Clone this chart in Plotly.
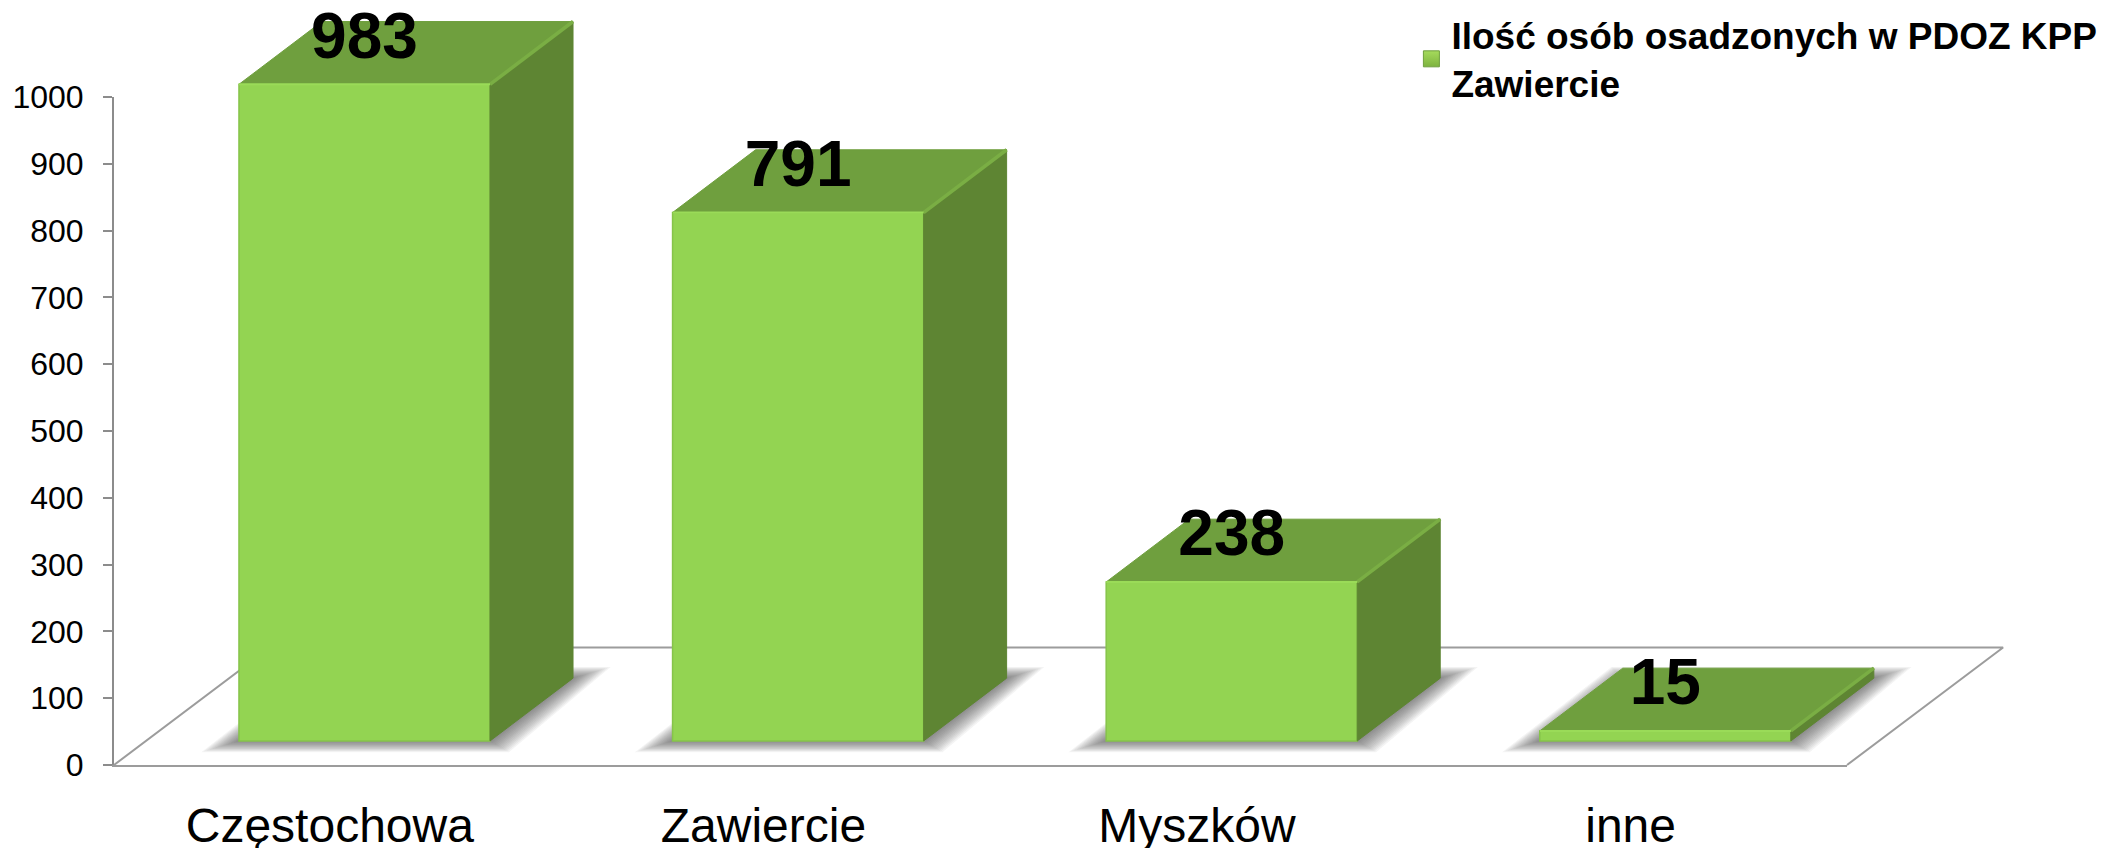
import plotly.graph_objects as go

# ---- data ----
categories = ["Częstochowa", "Zawiercie", "Myszków", "inne"]
values = [983, 791, 238, 15]
value_labels = ["983", "791", "238", "15"]
y_ticks = [0, 100, 200, 300, 400, 500, 600, 700, 800, 900, 1000]
series_name = "Ilość osób osadzonych w PDOZ KPP<br>Zawiercie"

# ---- oblique "3D" projection, in axis units ----
BAR_W = 0.579
DEPTH_X, DEPTH_Y = 0.1914, 94.0
BASE = 36.0
FLOOR_DX, FLOOR_DY = 0.36, 176.0
X_MIN, X_MAX = -0.5777, 3.419
LABEL_LIFT = 36 + 64
LABEL_SHIFT = -0.08

# layout frame of the visible axes, in pixels of the 2105x848 page
W, H = 2105, 848
AX_L, AX_R, AX_T, AX_B = 114, 1847, 97, 765
X_SCALE = (AX_R - AX_L) / (X_MAX - X_MIN)
Y_SCALE = (AX_B - AX_T) / 1000.0
FULL_X = [X_MIN - AX_L / X_SCALE, X_MAX + (W - AX_R) / X_SCALE]
FULL_Y = [-(H - AX_B) / Y_SCALE, 1000 + AX_T / Y_SCALE]

FRONT = "#93D452"
FRONT_HI = "#9ADB58"
TOP = "#6F9F3E"
SIDE = "#5E8533"
EDGE = "#7AAE44"
GREY = "#9C9C9C"
FONT = "Liberation Sans, Arial, sans-serif"


def poly(points, store):
    for px, py in points:
        store[0].append(px)
        store[1].append(py)
    store[0].append(points[0][0])
    store[1].append(points[0][1])
    store[0].append(None)
    store[1].append(None)


fig = go.Figure()

# soft floor shadows: stacked translucent footprints, largest first
for step in range(14, 0, -1):
    grow_x = step * 0.0062
    grow_y = step * 1.2
    store = ([], [])
    for i in range(len(values)):
        left, right = i - BAR_W / 2, i + BAR_W / 2
        poly([
            (left - grow_x, BASE - grow_y),
            (right + grow_x * 0.5, BASE - grow_y),
            (right + DEPTH_X + grow_x, BASE + DEPTH_Y + grow_y),
            (left + DEPTH_X - grow_x * 0.3, BASE + DEPTH_Y + grow_y),
        ], store)
    fig.add_trace(go.Scatter(x=store[0], y=store[1], mode="lines", fill="toself",
                             fillcolor="rgba(60,60,60,0.06)", line=dict(width=0),
                             xaxis="x2", yaxis="y2", hoverinfo="skip",
                             showlegend=False))

# floor outline
fig.add_trace(go.Scatter(
    x=[X_MIN, X_MIN + FLOOR_DX, X_MAX + FLOOR_DX, X_MAX],
    y=[0, FLOOR_DY, FLOOR_DY, 0],
    mode="lines", line=dict(color=GREY, width=2),
    xaxis="x2", yaxis="y2", hoverinfo="skip", showlegend=False))

# front faces
fig.add_trace(go.Bar(
    x=list(range(len(values))), y=values, base=BASE, width=BAR_W,
    marker=dict(color=FRONT, line=dict(color="#86C44A", width=1.5)),
    xaxis="x2", yaxis="y3", showlegend=False))

# top and side faces
top = ([], [])
side = ([], [])
bevel = ([], [])
front_hi = ([], [])
for i, v in enumerate(values):
    left, right = i - BAR_W / 2, i + BAR_W / 2
    high = BASE + v
    poly([(left, high), (right, high), (right + DEPTH_X, high + DEPTH_Y),
          (left + DEPTH_X, high + DEPTH_Y)], top)
    poly([(right, BASE), (right + DEPTH_X, BASE + DEPTH_Y),
          (right + DEPTH_X, high + DEPTH_Y), (right, high)], side)
    bevel[0].extend([right, right + DEPTH_X, None])
    bevel[1].extend([high, high + DEPTH_Y, None])
    front_hi[0].extend([left, right, None])
    front_hi[1].extend([high, high, None])
for shape, colour in ((side, SIDE), (top, TOP)):
    fig.add_trace(go.Scatter(x=shape[0], y=shape[1], mode="lines", fill="toself",
                             fillcolor=colour, line=dict(color=colour, width=1),
                             xaxis="x2", yaxis="y3", hoverinfo="skip",
                             showlegend=False))
fig.add_trace(go.Scatter(x=bevel[0], y=bevel[1], mode="lines",
                         line=dict(color=EDGE, width=3.5),
                         xaxis="x2", yaxis="y3", hoverinfo="skip", showlegend=False))
fig.add_trace(go.Scatter(x=front_hi[0], y=front_hi[1], mode="lines",
                         line=dict(color=FRONT_HI, width=2),
                         xaxis="x2", yaxis="y3", hoverinfo="skip", showlegend=False))

# value labels
fig.add_trace(go.Scatter(
    x=list(range(len(values))), y=[v + LABEL_LIFT for v in values],
    text=value_labels, mode="text", textposition="middle center",
    textfont=dict(family=FONT, size=64, color="black", weight="bold"),
    xaxis="x2", yaxis="y3", hoverinfo="skip", showlegend=False))

# legend entry
fig.add_trace(go.Scatter(
    x=[None], y=[None], mode="markers", name=series_name,
    marker=dict(symbol="square", size=19, color="#A6DB5C",
                gradient=dict(type="vertical", color="#7DB33F"),
                line=dict(color="#6F9F3E", width=1))))

fig.update_layout(
    width=W, height=H, autosize=False,
    margin=dict(l=0, r=0, t=0, b=0, pad=0, autoexpand=False),
    paper_bgcolor="white", plot_bgcolor="rgba(0,0,0,0)",
    font=dict(family=FONT, color="black"),
    barmode="overlay",
    legend=dict(x=0.6705, y=0.995, xanchor="left", yanchor="top",
                bgcolor="rgba(0,0,0,0)",
                font=dict(family=FONT, size=37, color="black", weight="bold"),
                itemsizing="trace", itemwidth=30),
    xaxis=dict(domain=[AX_L / W, AX_R / W], anchor="y", range=[X_MIN, X_MAX],
               tickmode="array",
               tickvals=[i + LABEL_SHIFT for i in range(len(categories))],
               ticktext=categories, ticks="", showgrid=False, zeroline=False,
               showline=True, linecolor=GREY, linewidth=2,
               ticklabelstandoff=17,
               tickfont=dict(family=FONT, size=48, color="black")),
    yaxis=dict(domain=[1 - AX_B / H, 1 - AX_T / H], anchor="x", range=[0, 1000],
               tickmode="array", tickvals=y_ticks,
               ticks="outside", ticklen=9, tickwidth=2, tickcolor="#8C8C8C",
               showgrid=False, zeroline=False, showline=True,
               linecolor="#8C8C8C", linewidth=2, ticklabelstandoff=13,
               tickfont=dict(family=FONT, size=32, color="black")),
    xaxis2=dict(domain=[0, 1], anchor="y2", range=FULL_X, visible=False),
    yaxis2=dict(domain=[0, 1], anchor="x2", range=FULL_Y, visible=False),
    yaxis3=dict(range=FULL_Y, overlaying="y2", anchor="x2", visible=False),
)

fig.write_html("out.html", config=dict(displayModeBar=False),
               post_script="document.body.style.margin='0';document.body.style.overflow='hidden';")
